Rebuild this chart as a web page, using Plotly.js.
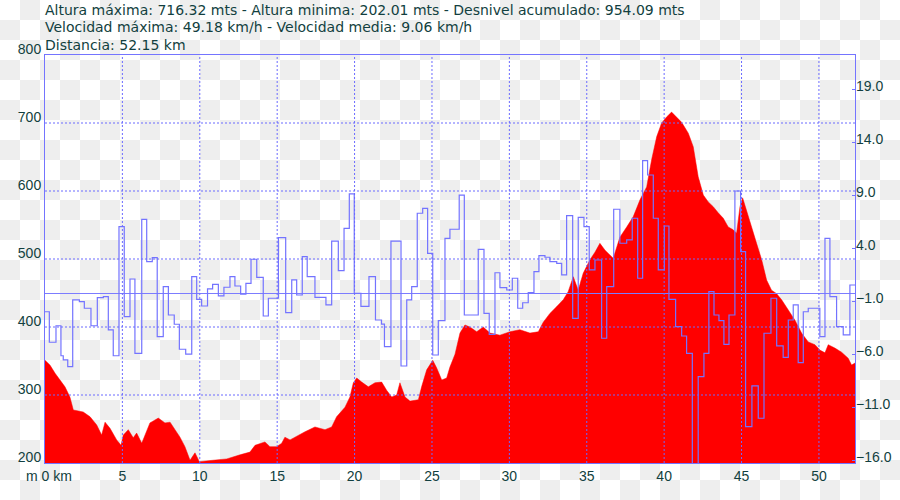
<!DOCTYPE html>
<html><head><meta charset="utf-8">
<script src="https://cdn.plot.ly/plotly-3.0.1.min.js"></script>
<style>
html,body{margin:0;padding:0;}
body{width:900px;height:500px;background:repeating-conic-gradient(#eeeeee 0 25%, #ffffff 0 50%) 0 0/40px 40px;}
#chart{width:900px;height:500px;}
</style></head><body><div id="chart"></div>
<script>
// Elevation profile (km, m)
const distKm = [0.00,0.32,0.65,0.97,1.29,1.61,1.83,2.47,2.91,3.34,3.66,3.88,4.20,4.63,4.91,5.06,5.38,5.70,5.92,6.25,6.46,6.78,7.32,7.75,8.08,8.40,8.72,9.04,9.37,9.69,9.97,10.85,11.74,12.60,13.24,13.57,14.21,14.53,14.97,15.29,15.50,15.83,16.36,16.80,17.44,18.09,18.52,18.84,19.38,19.70,19.92,20.14,20.46,20.89,21.32,21.75,22.07,22.40,22.72,22.93,23.26,23.58,24.12,24.33,24.66,25.05,25.30,25.63,25.95,26.16,26.49,26.81,27.13,27.45,27.89,28.31,28.75,29.39,30.04,30.68,31.33,31.87,32.19,32.62,33.06,33.48,33.80,34.13,34.45,34.77,35.21,35.53,35.85,36.18,36.71,37.14,37.58,38.00,38.44,38.87,39.19,39.52,39.84,40.16,40.48,40.81,41.13,41.56,41.88,42.20,42.53,42.85,43.17,43.49,43.82,44.14,44.46,44.68,44.90,45.07,45.33,45.65,45.97,46.30,46.62,46.94,47.27,47.59,48.02,48.45,48.88,49.31,49.74,50.06,50.39,50.60,51.03,51.46,51.89,52.11,52.33];
const altitudeM = [351,344,332,322,312,297,278,275,268,256,241,260,251,234,226,241,249,237,244,229,241,259,266,259,260,249,238,224,204,215,202,204,206,212,216,226,231,224,224,229,238,234,241,246,253,249,253,268,282,297,318,325,319,312,318,319,307,297,300,318,297,291,293,312,337,351,340,322,325,341,360,391,403,400,393,400,391,388,393,396,391,393,407,420,430,440,452,474,454,479,499,510,523,513,501,532,547,562,587,606,646,680,700,709,716,709,701,685,665,621,594,584,577,568,560,547,543,538,577,590,572,547,523,499,469,454,449,440,425,410,391,378,374,366,362,374,369,363,354,344,347];

// Slope step series (km, %)
const slopeKm = [0.00,0.28,0.71,1.03,1.18,1.47,1.79,2.22,2.54,2.97,3.38,3.77,4.09,4.41,4.78,5.12,5.49,5.81,6.25,6.57,6.93,7.25,7.64,7.97,8.35,8.68,9.09,9.48,9.80,10.12,10.50,10.83,11.20,11.56,11.95,12.27,12.64,12.98,13.31,13.68,14.10,14.43,15.08,15.55,15.94,16.26,16.62,16.94,17.44,18.15,18.52,18.95,19.32,19.66,19.98,20.41,20.93,21.35,21.74,21.93,22.35,23.00,23.37,23.69,24.05,24.40,24.72,25.05,25.41,25.84,26.16,26.76,27.09,27.99,28.36,28.70,29.07,29.39,29.83,30.19,30.54,30.86,31.22,31.59,31.91,32.30,32.62,33.06,33.38,33.70,34.09,34.45,34.82,35.16,35.53,35.96,36.29,36.74,37.14,37.58,37.94,38.29,38.61,38.93,39.30,39.62,40.01,40.31,40.74,41.13,41.45,41.82,42.20,42.57,42.89,43.22,43.54,43.86,44.19,44.57,44.94,45.26,45.67,46.08,46.45,46.90,47.27,47.69,48.02,48.34,48.66,48.99,49.31,50.06,50.39,50.71,51.14,51.57,52.00,52.33];
const slopePct = [-1.92,-4.80,-3.24,-6.07,-6.47,-7.10,-0.81,-0.97,-1.59,-3.24,-0.59,-0.50,-3.64,-6.07,6.10,-2.39,1.17,-5.84,6.80,2.80,3.18,-4.27,0.44,-2.23,-3.10,-5.46,-5.91,1.39,-0.75,-1.38,0.23,0.67,-0.43,0.39,1.39,0.51,-0.27,0.76,3.03,1.33,-2.32,-0.65,5.07,-2.01,1.08,-0.34,3.27,1.39,-0.56,-1.28,4.75,1.95,5.95,9.19,-0.18,-1.41,1.39,-2.70,-3.08,-5.22,4.75,-7.04,-0.81,0.44,7.37,7.84,3.59,-6.00,-2.76,5.01,5.86,9.09,-2.23,3.97,-2.07,-4.05,1.76,0.35,0.13,1.24,-1.59,-1.07,-0.12,1.86,3.37,3.22,2.80,2.65,1.55,7.14,-2.54,6.99,6.10,2.02,2.96,-4.42,0.44,7.75,4.54,4.85,6.90,1.24,12.33,10.98,6.90,2.02,6.17,-0.75,-3.33,-4.21,-5.84,-16.94,-8.05,-5.84,-0.03,-2.23,-2.76,-4.99,-2.23,9.47,3.75,-12.76,-8.92,-11.97,-3.95,-0.65,-5.15,-6.22,-2.70,-1.28,-6.73,-1.92,-1.59,-4.27,5.01,-0.50,-3.33,-4.11,0.60,0.60];

// Reference horizontal line on the slope axis
const refLineValue = -0.2;

// Axes
const xTicks = [0,5,10,15,20,25,30,35,40,45,50];
const xTickText = ['\u00a0\u00a0m 0 km','5','10','15','20','25','30','35','40','45','50'];
const xGrid = [5,10,15,20,25,30,35,40,45,50];
const yTicks = [200,300,400,500,600,700,800];
const yGrid = [300,400,500,600,700];
const y2Ticks = [-16,-11,-6,-1,4,9,14,19];

const headerLines = [
  'Altura máxima: 716.32 mts - Altura minima: 202.01 mts - Desnivel acumulado: 954.09 mts',
  'Velocidad máxima: 49.18 km/h - Velocidad media: 9.06 km/h',
  'Distancia: 52.15 km'
];
const headerY = [1.1103, 1.0686, 1.0245];

const textColor = '#123f40';
const frameColor = '#7474ff';
const gridColor = '#6a6aff';
const fontFam = '"Liberation Sans", Arial, sans-serif';
const headFam = '"DejaVu Sans", Verdana, sans-serif';

const xEnd = distKm[distKm.length - 1];

const traces = [
  {x: distKm, y: altitudeM, type: 'scatter', mode: 'lines', fill: 'tozeroy',
   fillcolor: '#ff0000', line: {color: '#ff0000', width: 0.5}, hoverinfo: 'skip'},
  {x: [0, xEnd], y: [refLineValue, refLineValue], yaxis: 'y2', type: 'scatter', mode: 'lines',
   line: {color: '#7c7cff', width: 1}, hoverinfo: 'skip'},
  {x: slopeKm, y: slopePct, yaxis: 'y2', type: 'scatter', mode: 'lines',
   line: {color: '#7373ff', width: 1.2, shape: 'hv'}, hoverinfo: 'skip'}
];

const shapes = [];
xGrid.forEach(v => shapes.push({type: 'line', xref: 'x', yref: 'paper', x0: v, x1: v, y0: 0, y1: 1,
  layer: 'above', line: {color: gridColor, width: 1, dash: '2px,2px'}}));
yGrid.forEach(v => shapes.push({type: 'line', xref: 'paper', yref: 'y', x0: 0, x1: 1, y0: v, y1: v,
  layer: 'above', line: {color: gridColor, width: 1, dash: '2px,2px'}}));

const annotations = headerLines.map((t, i) => ({
  text: t, xref: 'paper', yref: 'paper', x: 0, y: headerY[i], xanchor: 'left', yanchor: 'middle',
  showarrow: false, borderpad: 0, xshift: -1,
  font: {family: headFam, size: 14, color: textColor}
}));

const layout = {
  width: 900, height: 500,
  margin: {l: 45, r: 45, t: 55, b: 37},
  paper_bgcolor: 'rgba(0,0,0,0)', plot_bgcolor: 'rgba(0,0,0,0)',
  showlegend: false,
  font: {family: fontFam, size: 14, color: textColor},
  xaxis: {range: [0, xEnd], tickvals: xTicks, ticktext: xTickText, showgrid: false, zeroline: false,
          showline: true, mirror: true, linecolor: frameColor, linewidth: 1, ticks: '',
          tickfont: {size: 14, color: textColor}, fixedrange: true},
  yaxis: {range: [200, 800], tickvals: yTicks, showgrid: false, zeroline: false,
          showline: true, mirror: true, linecolor: frameColor, linewidth: 1, ticks: '',
          ticklabelshift: -6, ticklabelstandoff: 0,
          tickfont: {size: 14, color: textColor}, fixedrange: true},
  yaxis2: {overlaying: 'y', side: 'right', range: [-16.19, 22.30], tickvals: y2Ticks, tickformat: '.1f',
           showgrid: false, zeroline: false, ticks: 'inside', ticklen: 3, tickcolor: frameColor,
           ticklabelshift: -4, ticklabelstandoff: 0,
           tickfont: {size: 14, color: textColor}, fixedrange: true},
  shapes: shapes,
  annotations: annotations
};

Plotly.newPlot('chart', traces, layout, {displayModeBar: false, staticPlot: true});
</script></body></html>
